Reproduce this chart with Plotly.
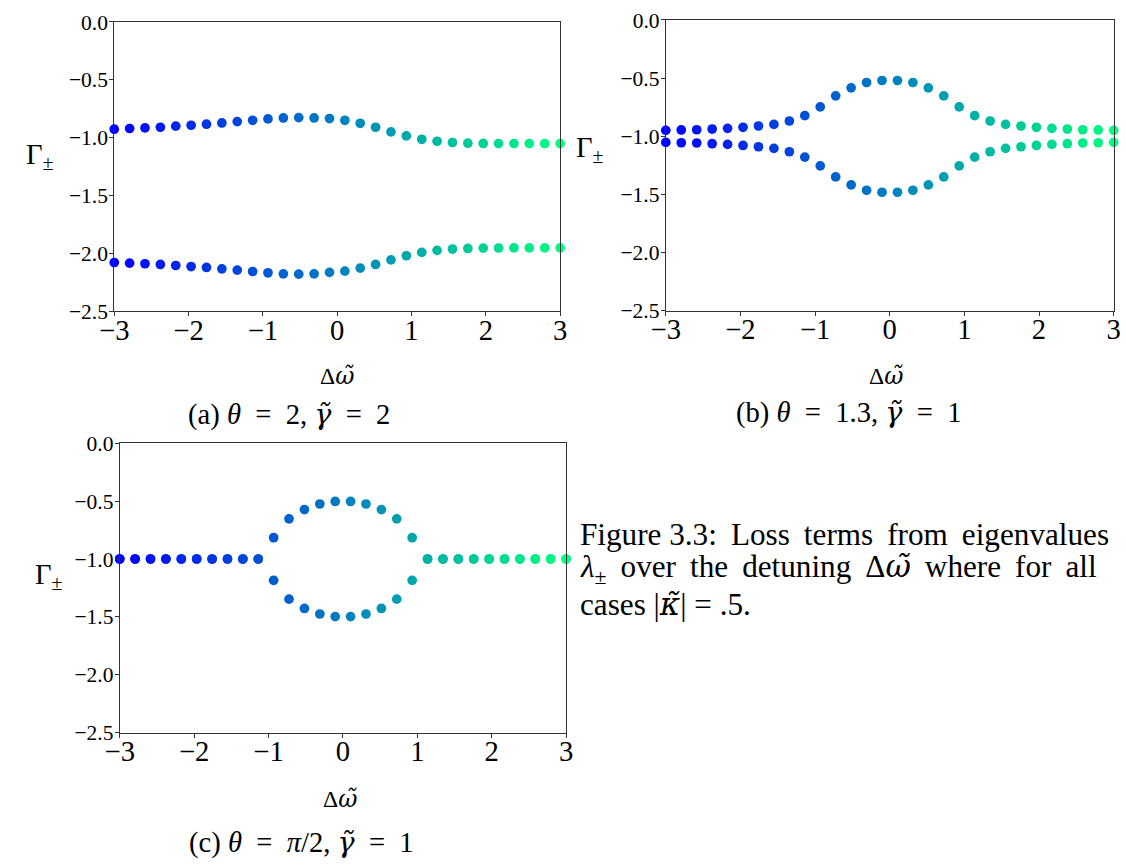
import plotly.graph_objects as go

# ---------------- data ----------------
x_vals = [-3 + 6 * i / 29 for i in range(30)]  # detuning grid (30 samples, -3..3)

a_upper = [-0.926, -0.920, -0.915, -0.909, -0.900, -0.892, -0.883, -0.872, -0.860, -0.849,
           -0.837, -0.829, -0.826, -0.829, -0.834, -0.849, -0.875, -0.909, -0.949, -0.984,
           -1.013, -1.030, -1.041, -1.047, -1.049, -1.050, -1.050, -1.050, -1.050, -1.050]
a_lower = [-2.077, -2.083, -2.088, -2.094, -2.103, -2.112, -2.120, -2.132, -2.143, -2.155,
           -2.166, -2.175, -2.178, -2.175, -2.163, -2.152, -2.126, -2.094, -2.054, -2.019,
           -1.990, -1.972, -1.961, -1.956, -1.953, -1.952, -1.951, -1.951, -1.951, -1.951]

b_upper = [-0.948, -0.945, -0.943, -0.937, -0.931, -0.922, -0.911, -0.897, -0.868, -0.822,
           -0.747, -0.652, -0.583, -0.537, -0.520, -0.520, -0.537, -0.583, -0.652, -0.747,
           -0.822, -0.868, -0.897, -0.911, -0.922, -0.931, -0.937, -0.943, -0.945, -0.948]
b_lower = [-1.052, -1.055, -1.057, -1.063, -1.069, -1.078, -1.089, -1.103, -1.132, -1.178,
           -1.253, -1.348, -1.417, -1.463, -1.480, -1.480, -1.463, -1.417, -1.348, -1.253,
           -1.178, -1.132, -1.103, -1.089, -1.078, -1.069, -1.063, -1.057, -1.055, -1.052]

c_upper = [-1.0, -1.0, -1.0, -1.0, -1.0, -1.0, -1.0, -1.0, -1.0, -1.0,
           -0.816, -0.653, -0.573, -0.525, -0.503, -0.503, -0.525, -0.573, -0.653, -0.816,
           -1.0, -1.0, -1.0, -1.0, -1.0, -1.0, -1.0, -1.0, -1.0, -1.0]
c_lower = [-1.0, -1.0, -1.0, -1.0, -1.0, -1.0, -1.0, -1.0, -1.0, -1.0,
           -1.184, -1.347, -1.427, -1.475, -1.497, -1.497, -1.475, -1.427, -1.347, -1.184,
           -1.0, -1.0, -1.0, -1.0, -1.0, -1.0, -1.0, -1.0, -1.0, -1.0]

x_ticks = [-3, -2, -1, 0, 1, 2, 3]
x_ticktext = ["\u22123", "\u22122", "\u22121", "0", "1", "2", "3"]
y_ticks = [0.0, -0.5, -1.0, -1.5, -2.0, -2.5]
y_ticktext = ["0.0", "\u22120.5", "\u22121.0", "\u22121.5", "\u22122.0", "\u22122.5"]

DJ = '<span style="font-family:DejaVu Serif">'
OMEGA_T = DJ + '<i>ω̃</i></span>'
GAMMA_T = DJ + '<i>γ̃</i></span>'
KAPPA_T = DJ + '<i>κ̃</i></span>'
EQ = "\u2002=\u2002"

panel_captions = ["(a) <i>θ</i>" + EQ + "2, " + GAMMA_T + EQ + "2",
                  "(b) <i>θ</i>" + EQ + "1.3, " + GAMMA_T + EQ + "1",
                  "(c) <i>θ</i>" + EQ + "<i>π</i>/2, " + GAMMA_T + EQ + "1"]
figure_caption = ["Figure 3.3: \u2009Loss \u2009terms \u2009from \u2009eigenvalues",
                  "<i>λ</i><sub>±</sub> \u2009over \u2009the \u2009detuning \u2009Δ" + OMEGA_T + " \u2009where \u2009for \u2009all",
                  "cases |" + KAPPA_T + "| = .5."]

# ---------------- styling / layout ----------------
W, H = 1126, 865
FONT = "Liberation Serif"

# the captured page is slightly inset/scaled; place things so they land on target pixels
OX, SX, OY, SY = 12.0, 0.983, 11.0, 0.974
FS = 1.0 / ((SX + SY) / 2)

def tx(x):
    return (x - OX) / SX

def ty(y):
    return (y - OY) / SY

def px(x):  # target pixel x -> paper fraction
    return tx(x) / W

def py(y):  # target pixel y -> paper fraction
    return 1 - ty(y) / H

def fs(s):
    return round(s * FS, 1)

# winter colormap over point index
n = len(x_vals)
colors = []
for i in range(n):
    t = i / (n - 1)
    colors.append("rgb(0,%d,%d)" % (round(255 * t), round(255 * (1 - 0.5 * t))))

# target panel boxes in pixels: (left, right, top, bottom)
boxes = [(111.5, 558.5, 22, 312), (664.5, 1113.5, 20, 311.5), (117, 564.5, 444, 734)]
ylab_pos = [(37, 157), (588, 150), (46, 578)]
xlab_pos = [(335, 377), (885, 377), (338, 800)]
cap_pos = [(287, 415), (848, 413), (299, 843)]

fig = go.Figure()
panels = [(a_upper, a_lower), (b_upper, b_lower), (c_upper, c_lower)]
layout = dict(width=W, height=H, margin=dict(l=0, r=0, t=0, b=0),
              paper_bgcolor="white", plot_bgcolor="white", showlegend=False,
              font=dict(family=FONT, color="black"))
annotations = []

def ann(text, x, y, size, xanchor="center"):
    return dict(text=text, x=px(x), y=py(y), xref="paper", yref="paper", showarrow=False,
                xanchor=xanchor, yanchor="middle", font=dict(family=FONT, size=fs(size)))

for k, ((up, lo), (l, r, t, b)) in enumerate(zip(panels, boxes)):
    sx = "" if k == 0 else str(k + 1)
    for ys in (up, lo):
        fig.add_trace(go.Scatter(
            x=x_vals, y=ys, mode="markers", xaxis="x" + sx, yaxis="y" + sx,
            marker=dict(size=fs(9.5), color=colors, line=dict(width=0)),
            cliponaxis=False, hoverinfo="skip"))
    axis_common = dict(showline=True, linecolor="#333", linewidth=1, mirror=True,
                       showgrid=False, zeroline=False, ticks="outside", ticklen=4,
                       tickwidth=1, tickcolor="#333")
    layout["xaxis" + sx] = dict(domain=[px(l), px(r)], range=[-3, 3], anchor="y" + sx,
                                tickvals=x_ticks, ticktext=x_ticktext,
                                ticklabelstandoff=-11,
                                tickfont=dict(family=FONT, size=fs(28)), **axis_common)
    layout["yaxis" + sx] = dict(domain=[py(b), py(t)], range=[-2.5, 0], anchor="x" + sx,
                                tickvals=y_ticks, ticktext=y_ticktext,
                                ticklabelstandoff=-3,
                                tickfont=dict(family=FONT, size=fs(21)), **axis_common)
    annotations.append(ann("Γ<sub>±</sub>", ylab_pos[k][0], ylab_pos[k][1], 28))
    annotations.append(ann("Δ" + OMEGA_T, xlab_pos[k][0], xlab_pos[k][1], 23))
    annotations.append(ann(panel_captions[k], cap_pos[k][0], cap_pos[k][1], 28))

for j, line in enumerate(figure_caption):
    annotations.append(ann(line, 576, 535 + 35 * j, 30.5, xanchor="left"))

layout["annotations"] = annotations
fig.update_layout(**layout)
fig.write_html("out.html")
